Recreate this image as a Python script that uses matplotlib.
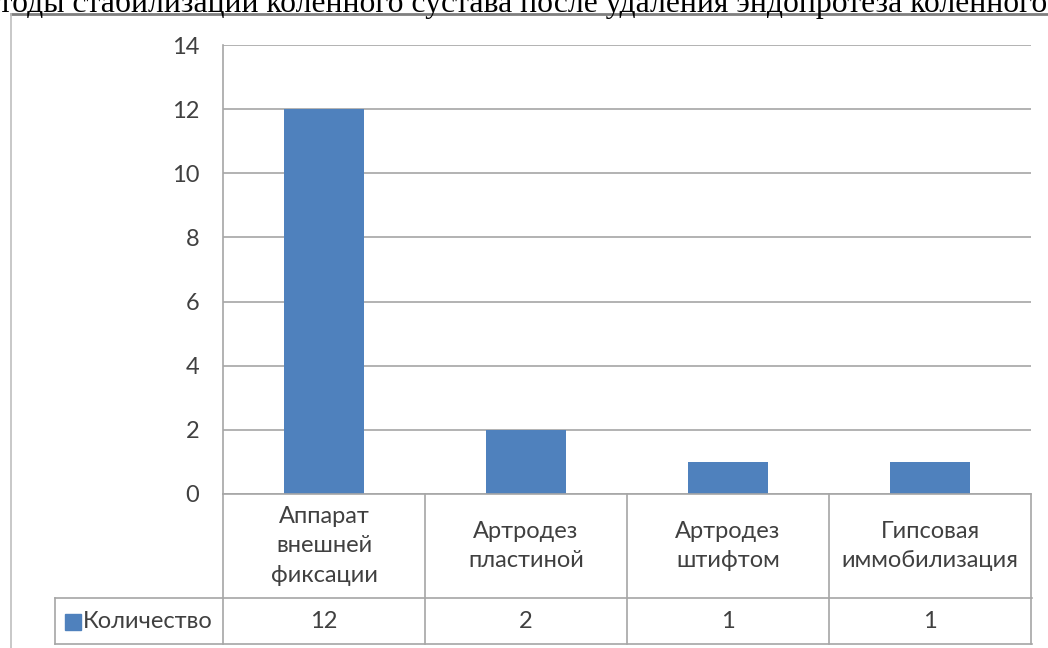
import numpy as np
import matplotlib.pyplot as plt
from matplotlib import transforms
from matplotlib.lines import Line2D
from matplotlib.patches import Rectangle

title = "Методы стабилизации коленного сустава после удаления эндопротеза коленного"
categories = ["Аппарат\nвнешней\nфиксации", "Артродез\nпластиной", "Артродез\nштифтом", "Гипсовая\nиммобилизация"]
values = [12, 2, 1, 1]
series_name = "Количество"
yticks = [0, 2, 4, 6, 8, 10, 12, 14]

W, H = 1048, 648
blue = "#4F81BD"
txt = "#404040"
grid = "#a6a6a6"
fs = 17

def fx(px):
    return px / W

def fy(py):
    return 1 - py / H

fig = plt.figure(figsize=(W / 100, H / 100), dpi=100)
ax = fig.add_axes([fx(223), fy(494), fx(1031) - fx(223), fy(45) - fy(494)])

x = np.arange(len(values))
ax.bar(x, values, width=0.395, color=blue, zorder=3)
ax.set_xlim(-0.5, len(values) - 0.5)
ax.set_ylim(0, 14)
ax.set_yticks(yticks)
ax.set_yticklabels([str(v) for v in yticks], fontsize=fs, color=txt, family="Lato")
ax.tick_params(axis="y", length=0, pad=17)
ax.tick_params(axis="x", length=0, labelbottom=False)
ax.yaxis.grid(True, color=grid, linewidth=1.2, zorder=0)
for s in ["top", "right", "bottom"]:
    ax.spines[s].set_visible(False)
ax.spines["left"].set_color(grid)
ax.spines["left"].set_linewidth(1.2)

# data table under the plot
tr = transforms.blended_transform_factory(ax.transData, fig.transFigure)
row1_top, row1_bot, row2_bot = fy(494), fy(598), fy(644)
edges = np.arange(len(values) + 1) - 0.5
lc = dict(color=grid, linewidth=1.2, clip_on=False)
fig.add_artist(Line2D([edges[0], edges[-1]], [row1_top, row1_top], transform=tr, **lc))
for e in edges:
    fig.add_artist(Line2D([e, e], [row1_top, row2_bot], transform=tr, **lc))
fig.add_artist(Line2D([fx(55), fx(1032)], [row1_bot, row1_bot], **lc))
fig.add_artist(Line2D([fx(55), fx(1032)], [row2_bot, row2_bot], **lc))
fig.add_artist(Line2D([fx(55), fx(55)], [row1_bot, row2_bot], **lc))

for i, (c, v) in enumerate(zip(categories, values)):
    fig.text(i, (row1_top + row1_bot) / 2, c, transform=tr, ha="center", va="center",
             fontsize=fs, color=txt, family="Lato", linespacing=1.52, multialignment="center")
    fig.text(i, (row1_bot + row2_bot) / 2, str(v), transform=tr, ha="center", va="center",
             fontsize=fs, color=txt, family="Lato")

fig.add_artist(Rectangle((fx(65), fy(630)), fx(81) - fx(65), fy(614) - fy(630),
                         transform=fig.transFigure, color=blue))
fig.text(fx(83), (row1_bot + row2_bot) / 2, series_name, ha="left", va="center",
         fontsize=fs, color=txt, family="Lato")

# outer frame of the chart
fig.add_artist(Line2D([fx(11), 1], [fy(14), fy(14)], color="#7f7f7f", linewidth=2))
fig.add_artist(Line2D([fx(11), fx(11)], [fy(14), 0], color="#bfbfbf", linewidth=1.2))

fig.text(fx(1047), fy(12), title, ha="right", va="baseline", fontsize=22.8,
         family="Liberation Serif", color="black")

fig.savefig("out.png", dpi=100)
